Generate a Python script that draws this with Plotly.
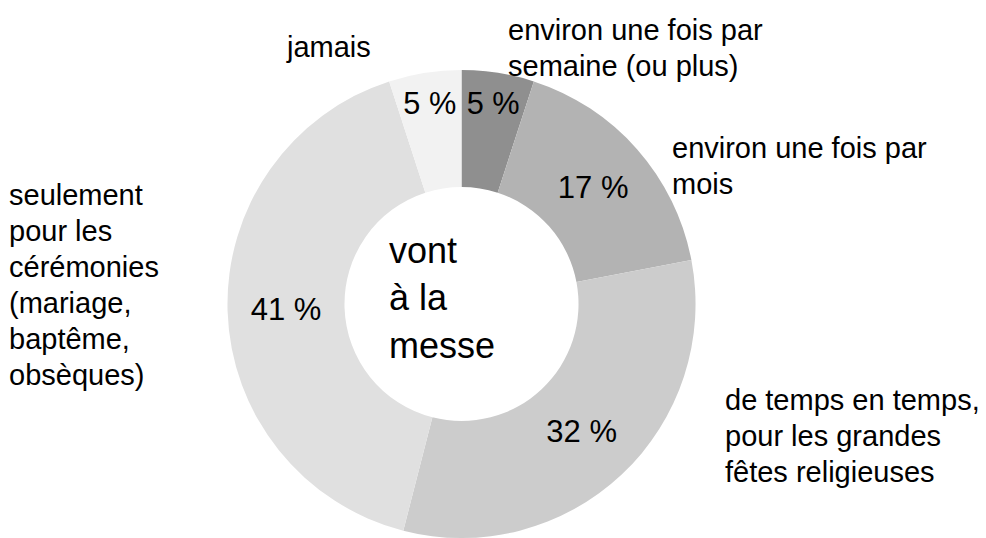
import plotly.graph_objects as go

categories = [
    "environ une fois par semaine (ou plus)",
    "environ une fois par mois",
    "de temps en temps, pour les grandes fêtes religieuses",
    "seulement pour les cérémonies (mariage, baptême, obsèques)",
    "jamais",
]
values = [5, 17, 32, 41, 5]
pct_text = ["5 %", "17 %", "32 %", "41 %", "5 %"]
label_lines = [
    ["environ une fois par", "semaine (ou plus)"],
    ["environ une fois par", "mois"],
    ["de temps en temps,", "pour les grandes", "fêtes religieuses"],
    ["seulement", "pour les", "cérémonies", "(mariage,", "baptême,", "obsèques)"],
    ["jamais"],
]
center_lines = ["vont", "à la", "messe"]
colors = ["#8f8f8f", "#b3b3b3", "#cccccc", "#e0e0e0", "#f2f2f2"]

W, H = 986, 538
FONT = "Liberation Sans, Arial, sans-serif"

fig = go.Figure(go.Pie(
    labels=categories,
    values=values,
    text=pct_text,
    textinfo="text",
    textposition="inside",
    insidetextorientation="horizontal",
    hole=0.5,
    sort=False,
    direction="clockwise",
    rotation=0,
    marker=dict(colors=colors, line=dict(width=0)),
    textfont=dict(family=FONT, size=31, color="black"),
    domain=dict(x=[(461.5 - 236) / W, (461.5 + 236) / W], y=[0, 0.87]),
    showlegend=False,
    hoverinfo="label+percent",
))

def add_lines(lines, px, py_first, spacing, size):
    for i, line in enumerate(lines):
        fig.add_annotation(
            text=line, x=px / W, y=1 - (py_first + i * spacing) / H,
            xref="paper", yref="paper", xanchor="left", yanchor="middle",
            align="left", showarrow=False,
            font=dict(family=FONT, size=size, color="black"),
        )

# label anchor positions (pixels: left x, middle y of first line)
label_pos = [(506, 30), (670, 148), (723, 400), (7, 195), (284, 47)]
for lines, (px, py) in zip(label_lines, label_pos):
    add_lines(lines, px, py, 36, 29)

add_lines(center_lines, 387, 250, 47.5, 36)

fig.update_layout(
    width=W, height=H,
    margin=dict(l=0, r=0, t=0, b=0),
    paper_bgcolor="white", plot_bgcolor="white",
)

fig.write_html(
    "out.html",
    config={"displayModeBar": False},
    post_script="document.body.style.margin='0';document.body.style.overflow='hidden';",
)
